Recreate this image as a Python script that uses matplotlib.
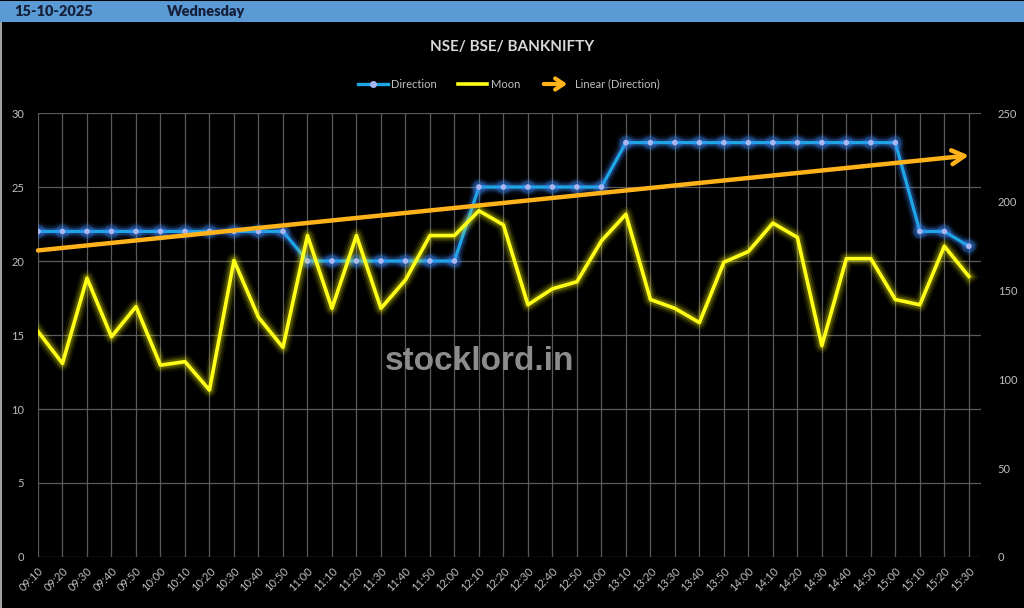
import numpy as np
import matplotlib
matplotlib.use("Agg")
import matplotlib.pyplot as plt
import matplotlib.patheffects as pe
from matplotlib.patches import Rectangle, FancyArrowPatch
from matplotlib.lines import Line2D

plt.rcParams['font.family'] = ['Lato', 'DejaVu Sans']

times = ['09:10', '09:20', '09:30', '09:40', '09:50', '10:00', '10:10', '10:20', '10:30', '10:40',
         '10:50', '11:00', '11:10', '11:20', '11:30', '11:40', '11:50', '12:00', '12:10', '12:20',
         '12:30', '12:40', '12:50', '13:00', '13:10', '13:20', '13:30', '13:40', '13:50', '14:00',
         '14:10', '14:20', '14:30', '14:40', '14:50', '15:00', '15:10', '15:20', '15:30']

# left axis series
direction = [22, 22, 22, 22, 22, 22, 22, 22, 22, 22, 22,
             20, 20, 20, 20, 20, 20, 20,
             25, 25, 25, 25, 25, 25,
             28, 28, 28, 28, 28, 28, 28, 28, 28, 28, 28, 28,
             22, 22, 21]

# right axis series
moon = [127, 109, 157, 124, 141, 108, 110, 94, 167, 135,
        118, 181, 140, 181, 140, 156, 181, 181, 195, 187,
        142, 151, 155, 178, 193, 145, 140, 132, 166, 172,
        188, 180, 119, 168, 168, 145, 142, 175, 158]

date_txt = '15-10-2025'
day_txt = 'Wednesday'
title = 'NSE/ BSE/ BANKNIFTY'

x = np.arange(len(times))
grid_c = '#5a5a5a'
tick_c = '#bfbfbf'
blue = '#1ea7e6'
yellow = '#ffff1a'
orange = '#ffb21a'


def glow(color, widths, alphas):
    fx = [pe.Stroke(linewidth=w, foreground=color, alpha=a) for w, a in zip(widths, alphas)]
    return fx + [pe.Normal()]


fig = plt.figure(figsize=(10.24, 6.08), dpi=100, facecolor='black')
ax = fig.add_axes([0.0371, 0.0839, 0.921, 0.7302])
ax.set_facecolor('black')
ax2 = ax.twinx()

# top header band
fig.patches.append(Rectangle((0, 1 - 22 / 608), 1, 21 / 608, transform=fig.transFigure,
                             facecolor='#5B9BD5', edgecolor='none'))
fig.text(14 / 1024, 1 - 12 / 608, date_txt, va='center', ha='left', fontsize=10.5,
         weight='heavy', color='#16203a')
fig.text(167 / 1024, 1 - 12 / 608, day_txt, va='center', ha='left', fontsize=10.5,
         weight='heavy', color='#16203a')
fig.patches.append(Rectangle((0, 0), 2 / 1024, 1 - 22 / 608, transform=fig.transFigure,
                             facecolor='#a0a0a0', edgecolor='none'))

fig.text(512 / 1024, 1 - 47 / 608, title, ha='center', va='center', fontsize=11,
         weight='bold', color='#d9d9d9')

# direction line with glow
ax.plot(x, direction, color=blue, lw=2.3, zorder=3,
        marker='o', markersize=4, markerfacecolor='#a9b6f2', markeredgecolor='none',
        path_effects=glow('#3f8cff', [10, 7, 5], [0.08, 0.14, 0.22]))

# linear trend of direction
k, b = np.polyfit(x, direction, 1)
ax.annotate('', xy=(x[-1], k * x[-1] + b), xytext=(x[0], k * x[0] + b),
            arrowprops=dict(arrowstyle='->,head_length=0.9,head_width=0.5', color=orange,
                            lw=3.2, shrinkA=0, shrinkB=0), zorder=4)

# moon line with glow
ax2.plot(x, moon, color=yellow, lw=2.6, zorder=3,
         path_effects=glow('#ffff00', [11, 8, 5.5], [0.07, 0.12, 0.2]))

ax.set_xlim(0, 38.5)
ax.set_ylim(0, 30)
ax2.set_ylim(0, 250)
ax.set_yticks(range(0, 31, 5))
ax2.set_yticks(range(0, 251, 50))
ax.set_xticks(x)
ax.set_xticklabels(times, rotation=45, ha='right', rotation_mode='anchor')

ax.grid(True, color=grid_c, lw=0.9)
ax.set_axisbelow(True)
for a in (ax, ax2):
    for s in a.spines.values():
        s.set_visible(False)
    a.tick_params(length=0, colors=tick_c, labelsize=8)
ax.tick_params(axis='y', pad=10)
ax2.tick_params(axis='y', pad=12)
ax.tick_params(axis='x', pad=6)

# legend
ly = 1 - 84 / 608
fig.add_artist(Line2D([358 / 1024, 388 / 1024], [ly, ly], color=blue, lw=2.4))
fig.add_artist(Line2D([373 / 1024], [ly], color='#a9b6f2', marker='o', markersize=4, lw=0))
fig.text(391 / 1024, ly, 'Direction', va='center', fontsize=8, color=tick_c)
fig.add_artist(Line2D([458 / 1024, 487 / 1024], [ly, ly], color=yellow, lw=2.6))
fig.text(491 / 1024, ly, 'Moon', va='center', fontsize=8, color=tick_c)
fig.patches.append(FancyArrowPatch(
    (541 / 1024, ly), (570 / 1024, ly), transform=fig.transFigure,
    arrowstyle='->,head_length=0.6,head_width=0.4', color=orange, lw=3, mutation_scale=10))
fig.text(575 / 1024, ly, 'Linear (Direction)', va='center', fontsize=8, color=tick_c)

fig.text(480 / 1024, 1 - 362 / 608, 'stocklord.in', ha='center', va='center', fontsize=24,
         family='Liberation Sans', weight='bold', color='#8c8c8c', zorder=5)

fig.savefig('out.png', dpi=100, facecolor='black')
